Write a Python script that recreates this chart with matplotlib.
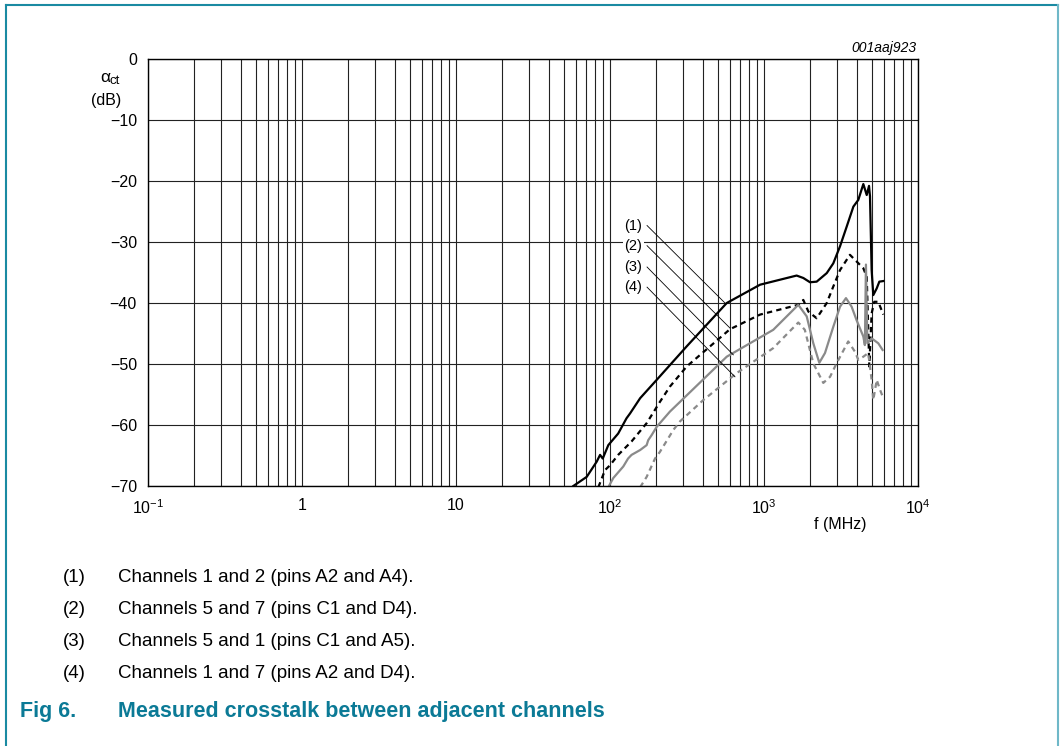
import matplotlib
matplotlib.use("Agg")
import matplotlib.pyplot as plt
from matplotlib.lines import Line2D

plt.rcParams['font.family'] = ['Liberation Sans', 'DejaVu Sans']
plt.rcParams['mathtext.fontset'] = 'custom'
plt.rcParams['mathtext.rm'] = 'Liberation Sans'
plt.rcParams['mathtext.it'] = 'Liberation Sans:italic'

# ---- data (frequency in MHz, crosstalk in dB) ----
f1 = [57.8, 70.6, 82.0, 86.2, 89.7, 97.5, 113, 128, 135, 157, 201, 315, 573, 943, 1629, 1800, 1990,
      2198, 2555, 2818, 3117, 3441, 3805, 4096, 4416, 4645, 4808, 4878, 5000, 5125, 5395, 5610, 5956]
a1 = [-70.0, -68.5, -66.0, -64.9, -65.5, -63.3, -61.4, -58.9, -58.1, -55.6, -52.6, -47.1, -40.0, -37.0, -35.5, -35.9, -36.6,
      -36.5, -35.1, -33.5, -30.7, -27.5, -24.2, -23.1, -20.5, -22.3, -20.8, -22.5, -34.6, -38.7, -37.6, -36.5, -36.4]

f2 = [84, 92.8, 100, 113, 138, 173, 211, 245, 315, 601, 943, 1670, 1800, 1941, 2198, 2555, 2818, 3117, 3614,
      4416, 4645, 4754, 4827, 5000, 5200, 5520, 5956]
a2 = [-70.2, -67.4, -66.6, -64.9, -62.7, -59.7, -56.2, -53.7, -50.4, -44.3, -41.9, -40.3, -39.5, -41.4, -42.5, -40.0, -37.3, -34.6, -32.1,
      -34.3, -35.7, -44.4, -50.4, -41.7, -39.8, -39.8, -41.9]

f3 = [97.5, 105, 122, 131, 138, 157, 173, 177, 187, 201, 245, 285, 573, 1148, 1670, 1894, 2090, 2286, 2489, 2818,
      3117, 3406, 3707, 3990, 4416, 4519, 4592, 4690, 5000, 5520, 5890]
a3 = [-70.2, -68.7, -66.8, -65.5, -64.9, -64.1, -63.3, -62.5, -61.6, -60.3, -57.8, -56.2, -48.8, -44.4, -40.3, -42.2, -46.6, -49.8, -48.2, -43.9,
      -40.6, -39.2, -40.6, -42.8, -45.5, -46.9, -33.7, -46.6, -45.8, -46.6, -47.7]

f4 = [157, 173, 196, 211, 258, 285, 404, 664, 1148, 1670, 1841, 2090, 2427, 2685, 2958, 3524, 3898, 4096, 4416,
      4754, 5000, 5125, 5395, 5663, 5890]
a4 = [-70.2, -68.5, -65.5, -64.4, -60.8, -59.4, -55.9, -51.5, -47.4, -43.2, -44.4, -49.9, -53.1, -52.1, -49.9, -46.3, -48.0, -49.3, -48.8,
      -48.2, -52.6, -55.9, -52.6, -54.2, -55.3]

curve_labels = ['(1)', '(2)', '(3)', '(4)']
label_text_y = [-27.3, -30.6, -34.1, -37.4]
label_target_f = [558, 601, 632, 648]
label_target_a = [-40.0, -44.1, -48.5, -52.1]

x_ticks = [0.1, 1, 10, 100, 1000, 10000]
x_ticklabels = ['$10^{-1}$', '1', '10', '$10^{2}$', '$10^{3}$', '$10^{4}$']
y_ticks = [0, -10, -20, -30, -40, -50, -60, -70]
y_ticklabels = ['0', '\u221210', '\u221220', '\u221230', '\u221240', '\u221250', '\u221260', '\u221270']

notes = ['Channels 1 and 2 (pins A2 and A4).',
         'Channels 5 and 7 (pins C1 and D4).',
         'Channels 5 and 1 (pins C1 and A5).',
         'Channels 1 and 7 (pins A2 and D4).']

W, H = 1061, 746
fig = plt.figure(figsize=(W / 100, H / 100), dpi=100)
ax = fig.add_axes([148 / W, 1 - 486 / H, 770 / W, 427 / H])
ax.set_xscale('log')
ax.set_xlim(0.1, 10000)
ax.set_ylim(-70, 0)

ax.grid(True, which='both', axis='x', color='#222222', lw=0.8)
ax.grid(True, which='major', axis='y', color='#222222', lw=0.8)
ax.set_axisbelow(True)
for s in ax.spines.values():
    s.set_linewidth(1.0)
ax.set_xticks(x_ticks)
ax.set_xticklabels(x_ticklabels, fontsize=11.5)
ax.set_yticks(y_ticks)
ax.set_yticklabels(y_ticklabels, fontsize=11.5)
ax.tick_params(which='both', length=0)
ax.tick_params(axis='y', pad=8)
ax.tick_params(axis='x', pad=9)

gray = '#8a8a8a'
ax.plot(f1, a1, color='black', lw=1.6, solid_joinstyle='round')
ax.plot(f2, a2, color='black', lw=1.6, dashes=(2.4, 1.9))
ax.plot(f3, a3, color=gray, lw=1.6, solid_joinstyle='round')
ax.plot(f4, a4, color=gray, lw=1.6, dashes=(2.4, 1.9))

for lab, ty, tf, ta in zip(curve_labels, label_text_y, label_target_f, label_target_a):
    ax.text(161.5, ty, lab, ha='right', va='center', fontsize=10.5,
            bbox=dict(facecolor='white', edgecolor='none', pad=1.0))
    ax.plot([174, tf], [ty, ta], color='black', lw=0.6)

def fx(px):
    return px / W

def fy(py):
    return 1 - py / H

fig.text(fx(110), fy(77), '\u03b1', ha='right', va='center', fontsize=12.5)
fig.text(fx(110), fy(81), 'ct', ha='left', va='center', fontsize=9.5)
fig.text(fx(106), fy(100), '(dB)', ha='center', va='center', fontsize=11.5)
fig.text(fx(840), fy(525), 'f (MHz)', ha='center', va='center', fontsize=11.5)
fig.text(fx(917), fy(48), '001aaj923', ha='right', va='center', fontsize=10, style='italic')

note_y = [578, 610, 642, 674]
for lab, txt, y in zip(curve_labels, notes, note_y):
    fig.text(fx(63), fy(y), lab, ha='left', va='center', fontsize=13.5)
    fig.text(fx(118), fy(y), txt, ha='left', va='center', fontsize=13.5)

teal = '#0b7a96'
fig.text(fx(20), fy(712), 'Fig 6.', ha='left', va='center', fontsize=15.5, fontweight='bold', color=teal)
fig.text(fx(118), fy(712), 'Measured crosstalk between adjacent channels', ha='left', va='center',
         fontsize=15.5, fontweight='bold', color=teal)

# frame
fig.add_artist(Line2D([fx(6), fx(1058)], [fy(5), fy(5)], color='#1a8aa2', lw=1.5))
fig.add_artist(Line2D([fx(6), fx(6)], [fy(5), 0], color='#1a8aa2', lw=1.5))
fig.add_artist(Line2D([fx(1058), fx(1058)], [fy(5), 0], color='#6fb8c8', lw=1.5))

fig.savefig('out.png', dpi=100)
